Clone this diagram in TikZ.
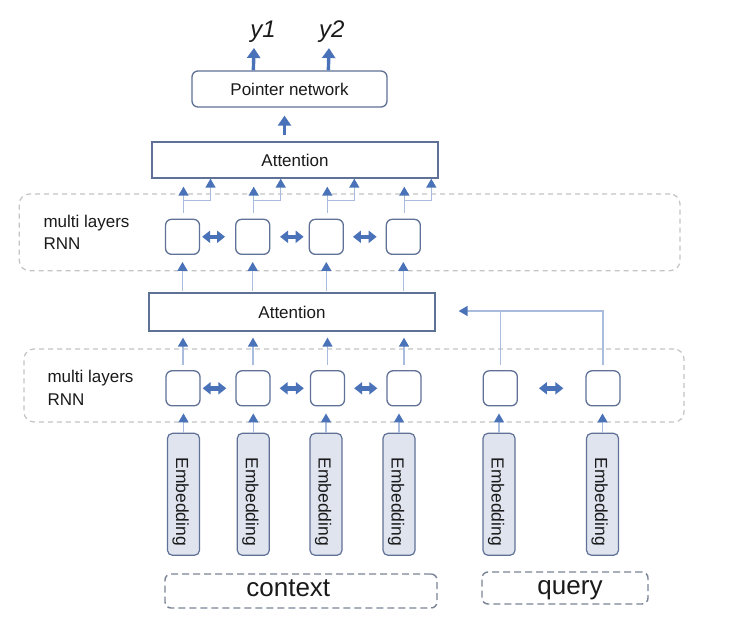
\documentclass[tikz,border=0pt]{standalone}
\usepackage{fontspec}
\usepackage{graphicx}
\setmainfont{Liberation Sans}
\usetikzlibrary{arrows.meta,calc}
\definecolor{headblue}{HTML}{4A72B8}
\definecolor{lineblue}{HTML}{A9BCDD}
\definecolor{boxedge}{HTML}{5F7196}
\definecolor{embfill}{HTML}{DFE4EF}
\definecolor{dashgray}{HTML}{C4C4C4}
\definecolor{srcedge}{HTML}{7A8396}
\definecolor{inkcol}{HTML}{1A1A1A}
\newcommand{\embtext}{\rotatebox{-90}{\hspace{15pt}\smash{Embedding}\rule[-2pt]{0pt}{18.8pt}}}
\begin{document}
\begin{tikzpicture}[x=1pt,y=-1pt,
 lbl/.style={font=\fontsize{17}{20}\selectfont, text=inkcol},
 wide/.style={draw=boxedge, line width=1.3pt, lbl, inner sep=0pt},
 cell/.style={draw=boxedge, line width=1.3pt, rounded corners=6pt, minimum width=34pt, minimum height=35pt, inner sep=0pt},
 emb/.style={draw=boxedge, fill=embfill, line width=1.2pt, rounded corners=5pt, minimum width=32pt, minimum height=122pt, inner sep=0pt, text=inkcol, font=\fontsize{17.5}{20}\selectfont},
 region/.style={draw=dashgray, dash pattern=on 5pt off 4pt, line width=1.2pt, rounded corners=10pt, inner sep=0pt},
 src/.style={draw=srcedge, dash pattern=on 7pt off 4pt, line width=1.4pt, rounded corners=6pt, inner sep=0pt},
 bigtxt/.style={font=\fontsize{26}{30}\selectfont, text=inkcol, inner sep=0pt},
 sidetxt/.style={font=\fontsize{17}{20}\selectfont, text=inkcol, inner sep=0pt, anchor=base west},
 outtxt/.style={font=\fontsize{24}{28}\selectfont\itshape, text=inkcol, inner sep=0pt},
 conn/.style={draw=lineblue, line width=1.4pt, -{Triangle[width=10pt,length=9pt,color=headblue]}},
 plain/.style={draw=lineblue, line width=1.4pt},
 big/.style={draw=headblue, line width=3.4pt, -{Triangle[width=13pt,length=10pt]}},
 dbl/.style={draw=headblue, line width=4.5pt, line cap=butt, {Triangle[width=12pt,length=8pt,sep=-1pt]}-{Triangle[width=12pt,length=8pt,sep=-1pt]}},
]
\fill[white] (0,0) rectangle (744,626);
\useasboundingbox (0,0) rectangle (744,626);

% dashed regions
\node[region, minimum width=660.7pt, minimum height=76.7pt] (reg1) at (349.65,232.35) {};
\node[region, minimum width=660pt, minimum height=73pt] (reg2) at (354,385.5) {};

\node[sidetxt] (ml1) at (43.3,227.7) {multi layers};
\node[sidetxt] (rn1) at (43.3,249.3) {RNN};
\node[sidetxt] (ml2) at (47.3,382.7) {multi layers};
\node[sidetxt] (rn2) at (47.3,405.5) {RNN};

% main boxes
\node[wide, rounded corners=6pt, minimum width=195pt, minimum height=36pt] (ptr) at (289.5,89) {Pointer network};
\node[wide, minimum width=286pt, minimum height=36pt] (att1) at (295,160) {Attention};
\node[wide, minimum width=286pt, minimum height=38pt] (att2) at (292,312) {Attention};

% top RNN cells
\node[cell] (r1) at (182.5,236.8) {};
\node[cell] (r2) at (252.7,236.8) {};
\node[cell] (r3) at (326.3,236.8) {};
\node[cell] (r4) at (403.3,236.8) {};

% lower RNN cells
\node[cell] (l1) at (183,388.3) {};
\node[cell] (l2) at (253,388.3) {};
\node[cell] (l3) at (327.5,388.3) {};
\node[cell] (l4) at (404,388.3) {};
\node[cell] (q1) at (500.3,388.3) {};
\node[cell] (q2) at (603,388.3) {};

% embeddings
\node[emb] (e1) at (183.5,494.3) {\embtext};
\node[emb] (e2) at (253.3,494.3) {\embtext};
\node[emb] (e3) at (326,494.3) {\embtext};
\node[emb] (e4) at (399,494.3) {\embtext};
\node[emb] (e5) at (499,494.3) {\embtext};
\node[emb] (e6) at (602.5,494.3) {\embtext};

% sources
\node[src, minimum width=272pt, minimum height=34pt] (ctx) at (301,591) {};
\node[bigtxt] (ctxt) at (288.3,588) {context};
\node[src, minimum width=166pt, minimum height=32pt] (qry) at (565,588) {};
\node[bigtxt] (qryt) at (570,590) {query};

% outputs
\node[outtxt] (y1) at (263,32) {y1};
\node[outtxt] (y2) at (331.7,32) {y2};

% big arrows
\draw[big] ($(ptr.north west)+(62,0)$) -- ($(y1.south)+(-9,5)$);
\draw[big] ($(ptr.north west)+(137,0)$) -- ($(y2.south)+(-2.7,5)$);
\draw[big] ($(ptr.south |- att1.north)+(-5,-6)$) -- ($(ptr.south)+(-5,8)$);

% top RNN -> attention
\foreach \i in {1,2,3,4} {
  \draw[conn] ($(r\i.north)+(1,-6)$) -- ($(r\i.north |- att1.south)+(1,8)$);
  \draw[conn] ($(r\i.north |- att1.south)+(1,22)$) -| ($(r\i.north |- att1.south)+(28,0)$);
  \draw[conn] ($(att2.north -| r\i.south)+(0,-1)$) -- ($(r\i.south)+(0,7)$);
}

% lower RNN -> attention
\foreach \n in {l1,l2,l3,l4} {
  \draw[conn] ($(\n.north)+(0,-5)$) -- ($(\n.north |- att2.south)+(0,6)$);
}

% embedding -> lower RNN
\foreach \e/\n in {e1/l1,e2/l2,e3/l3,e4/l4,e5/q1,e6/q2} {
  \draw[conn] (\e.north) -- ($(\e.north |- \n.south)+(0,7)$);
}

% query -> attention
\coordinate (qtip) at ($(att2.east)+(23,-1)$);
\draw[conn] ($(q2.north)+(0,-5)$) |- (qtip);
\draw[plain] ($(q1.north)+(0,-5)$) -- (q1.north |- qtip);

% bidirectional arrows
\draw[dbl, shorten <=3pt, shorten >=11pt] (r1.east) -- (r2.west);
\draw[dbl, shorten <=10.7pt, shorten >=6pt] (r2.east) -- (r3.west);
\draw[dbl, shorten <=10pt, shorten >=10pt] (r3.east) -- (r4.west);
\draw[dbl, shorten <=3pt, shorten >=10pt] (l1.east) -- (l2.west);
\draw[dbl, shorten <=10pt, shorten >=7pt] (l2.east) -- (l3.west);
\draw[dbl, shorten <=10pt, shorten >=10pt] (l3.east) -- (l4.west);
\draw[dbl, shorten <=22pt, shorten >=23pt] (q1.east) -- (q2.west);
\end{tikzpicture}
\end{document}
